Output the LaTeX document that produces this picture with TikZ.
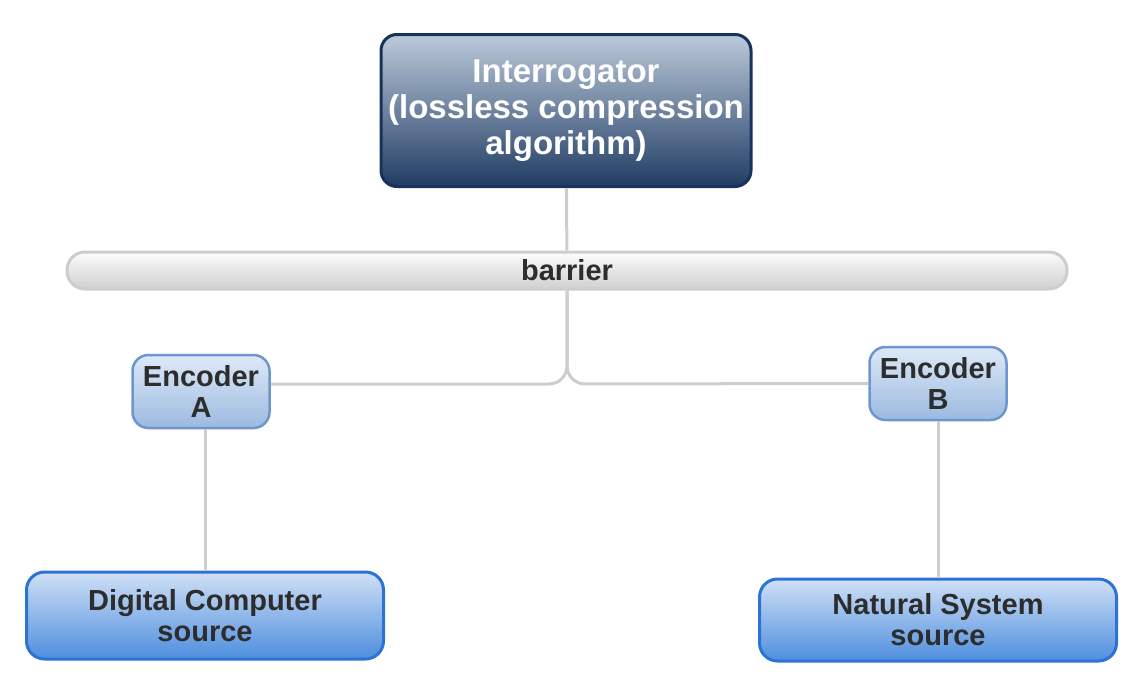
\documentclass[tikz,border=0pt]{standalone}
\usepackage{fontspec}
\setmainfont{Liberation Sans}
\usepackage{tikz}
\usetikzlibrary{positioning, calc}
\definecolor{navytop}{RGB}{188,202,218}
\definecolor{navybot}{RGB}{32,60,100}
\definecolor{navyline}{RGB}{24,50,90}
\definecolor{enctop}{RGB}{222,233,248}
\definecolor{encbot}{RGB}{155,186,224}
\definecolor{encline}{RGB}{108,150,205}
\definecolor{srctop}{RGB}{208,224,246}
\definecolor{srcbot}{RGB}{78,142,222}
\definecolor{srcline}{RGB}{45,115,212}
\definecolor{bartop}{RGB}{252,252,252}
\definecolor{barbot}{RGB}{208,208,208}
\definecolor{softgray}{RGB}{205,205,205}
\definecolor{textdark}{RGB}{45,45,45}

\begin{document}
\begin{tikzpicture}[x=1pt, y=-1pt,
    interbox/.style={rectangle, draw=navyline, line width=3pt, top color=navytop, bottom color=navybot,
                rounded corners=16pt, minimum width=370pt, minimum height=152pt, inner sep=0pt,
                align=center, text=white, font=\fontsize{33}{36}\selectfont\bfseries},
    encbox/.style={rectangle, draw=encline, line width=2.5pt, top color=enctop, bottom color=encbot,
                rounded corners=16pt, minimum width=137pt, minimum height=73pt, inner sep=0pt,
                align=center, text=textdark, font=\fontsize{29}{31}\selectfont\bfseries},
    srcbox/.style={rectangle, draw=srcline, line width=3pt, top color=srctop, bottom color=srcbot,
                rounded corners=18pt, minimum width=357pt, inner sep=0pt,
                align=center, text=textdark, font=\fontsize{29}{31}\selectfont\bfseries},
    barbox/.style={rectangle, draw=softgray, line width=3pt, top color=bartop, bottom color=barbot,
                rounded corners=18pt, minimum width=1000pt, minimum height=37pt, inner sep=0pt,
                text=textdark, font=\fontsize{29}{31}\selectfont\bfseries},
    conn/.style={softgray, line width=3pt}]
    \useasboundingbox (0,0) rectangle (1143,699);
    \node[interbox] (inter) at (566,110.5) {Interrogator\\(lossless compression\\algorithm)};
    \node[barbox] (barrier) at (567,270.5) {barrier};
    \node[encbox] (encA) at (201,391.5) {Encoder\\A};
    \node[encbox] (encB) at (938,383.5) {Encoder\\B};
    \node[srcbox, minimum height=87pt] (srcA) at (205,615.5) {Digital Computer\\source};
    \node[srcbox, minimum height=82pt] (srcB) at (938,620) {Natural System\\source};
    \coordinate (fork) at (567,384);
    \draw[conn] (inter) -- (barrier);
    \draw[conn, rounded corners=18pt] (barrier.south) -- (fork) -- (encA.east |- fork);
    \draw[conn, rounded corners=18pt] (barrier.south) -- (fork) -- (encB.west);
    \draw[conn] (srcA.north) -- (srcA.north |- encA.south);
    \draw[conn] (encB) -- (srcB);
\end{tikzpicture}
\end{document}
